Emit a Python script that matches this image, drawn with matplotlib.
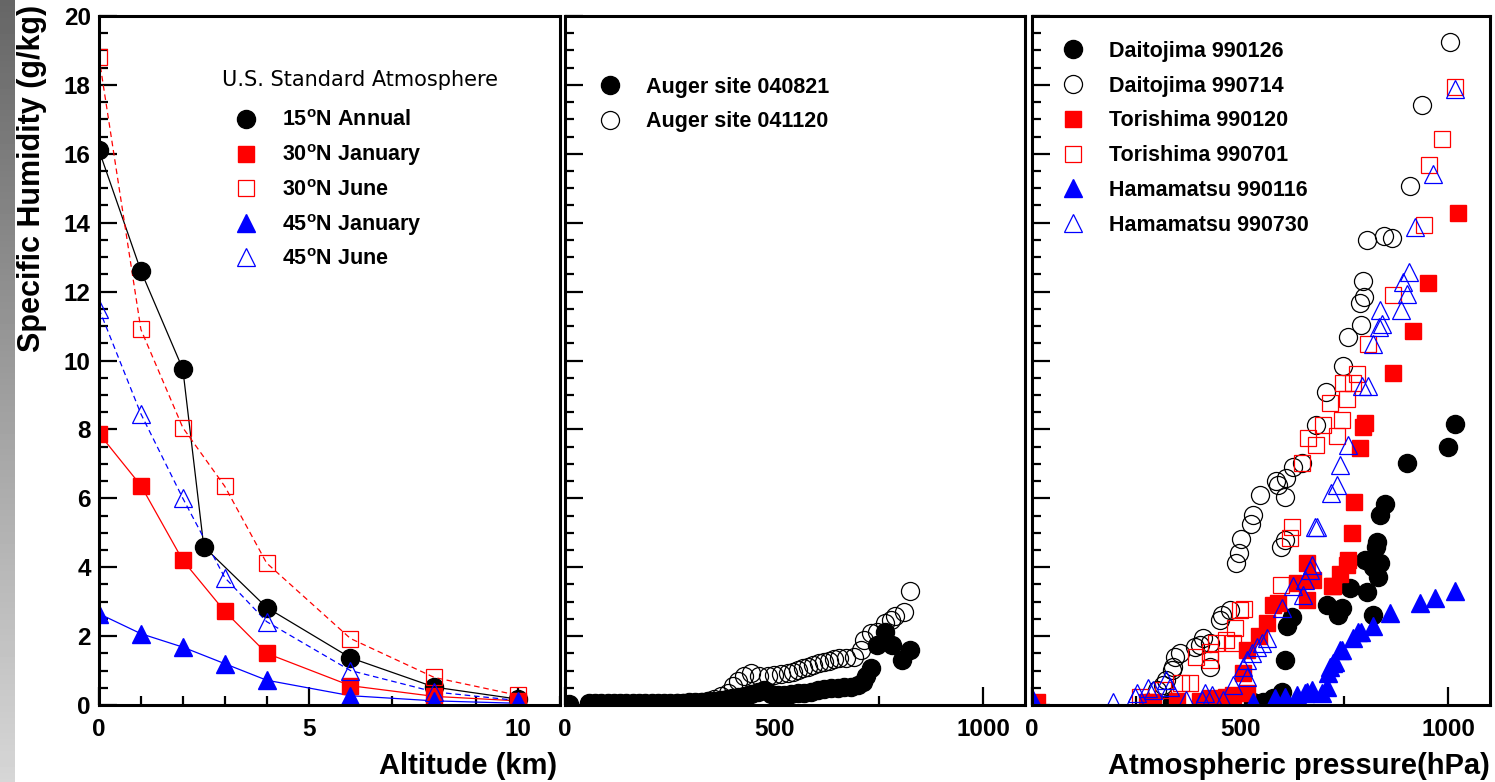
import numpy as np
import matplotlib.pyplot as plt
from matplotlib.ticker import MultipleLocator

plt.rcParams['font.family'] = ['Liberation Sans', 'DejaVu Sans']
plt.rcParams['font.weight'] = 'bold'
plt.rcParams['axes.labelweight'] = 'bold'
plt.rcParams['mathtext.fontset'] = 'custom'
plt.rcParams['mathtext.rm'] = 'Liberation Sans:bold'
plt.rcParams['mathtext.bf'] = 'Liberation Sans:bold'

# U.S. Standard Atmosphere supplementary models, altitude in km
alt_15n = [0, 1, 2, 2.5, 4, 6, 8, 10]
q_15n_annual = [16.1, 12.6, 9.75, 4.6, 2.83, 1.37, 0.52, 0.17]
alt = [0, 1, 2, 3, 4, 6, 8, 10]
q_30n_jan = [7.88, 6.37, 4.2, 2.72, 1.5, 0.56, 0.25, 0.12]
q_30n_jun = [18.8, 10.9, 8.05, 6.35, 4.12, 1.93, 0.8, 0.28]
q_45n_jan = [2.65, 2.07, 1.68, 1.2, 0.72, 0.27, 0.12, 0.05]
q_45n_jun = [11.5, 8.45, 6.0, 3.7, 2.42, 1.0, 0.38, 0.13]

# Auger site soundings, pressure in hPa
auger_0821_p = [10, 57, 72, 87, 102, 117, 132, 147, 162, 177, 192, 207, 222, 237, 252,
                267, 282, 297, 312, 327, 342, 357, 372, 387, 400, 414, 429, 445, 462,
                476, 493, 510, 524, 540, 557, 571, 588, 605, 619, 636, 652, 667, 683,
                700, 712, 719, 731, 747, 765, 783, 807, 826]
auger_0821_q = [0.04, 0.05, 0.05, 0.05, 0.05, 0.05, 0.05, 0.05, 0.05, 0.05, 0.05, 0.05,
                0.05, 0.05, 0.05, 0.06, 0.07, 0.08, 0.09, 0.1, 0.11, 0.13, 0.15, 0.18,
                0.2, 0.23, 0.26, 0.32, 0.38, 0.44, 0.32, 0.29, 0.29, 0.32, 0.34, 0.36,
                0.38, 0.44, 0.46, 0.49, 0.49, 0.53, 0.53, 0.58, 0.67, 0.83, 1.07, 1.74,
                2.12, 1.74, 1.31, 1.6]
auger_1120_p = [57, 72, 87, 102, 117, 132, 147, 162, 177, 192, 207, 222, 237, 252, 267,
                282, 297, 310, 326, 343, 357, 374, 390, 402, 414, 429, 445, 465, 486,
                500, 517, 533, 545, 557, 569, 581, 593, 607, 619, 631, 643, 655, 671,
                690, 707, 714, 731, 747, 765, 779, 790, 810, 826]
auger_1120_q = [0.04, 0.04, 0.04, 0.04, 0.04, 0.04, 0.04, 0.04, 0.04, 0.04, 0.04, 0.04,
                0.04, 0.04, 0.05, 0.05, 0.06, 0.07, 0.09, 0.13, 0.18, 0.26, 0.35, 0.55,
                0.7, 0.83, 0.93, 0.84, 0.83, 0.87, 0.9, 0.94, 0.97, 1.02, 1.07, 1.1,
                1.16, 1.22, 1.25, 1.28, 1.34, 1.37, 1.37, 1.4, 1.6, 1.89, 2.09, 2.13,
                2.38, 2.47, 2.57, 2.71, 3.31]

# Japanese radiosonde stations
dai_0126_p = [336, 440, 530, 555, 580, 600, 607, 612, 625, 708, 735, 744, 763, 799, 804,
              818, 818, 826, 828, 830, 835, 835, 849, 900, 998, 1015]
dai_0126_q = [0.1, 0.05, 0.08, 0.1, 0.2, 0.38, 1.31, 2.3, 2.55, 2.91, 2.62, 2.81, 3.39,
              4.2, 3.29, 4.0, 2.62, 4.6, 4.74, 3.73, 5.52, 4.13, 5.84, 7.03, 7.5, 8.17]
dai_0714_p = [300, 315, 323, 336, 339, 343, 355, 391, 403, 411, 427, 427, 451, 456, 475,
              491, 498, 503, 525, 531, 547, 585, 591, 597, 607, 607, 611, 627, 648, 682,
              706, 746, 758, 787, 791, 795, 797, 804, 845, 864, 907, 936, 1005]
dai_0714_q = [0.44, 0.58, 0.73, 1.02, 1.1, 1.4, 1.5, 1.69, 1.74, 1.95, 1.8, 1.1, 2.47,
              2.62, 2.76, 4.13, 4.42, 4.83, 5.26, 5.52, 6.1, 6.51, 6.4, 4.59, 6.05, 4.8,
              6.6, 6.92, 7.03, 8.14, 9.1, 9.83, 10.67, 11.66, 11.02, 12.3, 11.83, 13.49,
              13.6, 13.57, 15.06, 17.41, 19.24]
tori_0120_p = [11, 276, 291, 348, 403, 427, 467, 483, 516, 507, 516, 545, 564, 579, 590,
               636, 660, 660, 675, 720, 723, 739, 756, 758, 768, 773, 787, 795, 799, 866,
               914, 950, 1022]
tori_0120_q = [0.1, 0.1, 0.08, 0.12, 0.12, 0.2, 0.22, 0.3, 0.34, 0.92, 1.6, 2.0, 2.38,
               2.9, 2.95, 3.55, 3.05, 4.13, 3.63, 3.44, 3.44, 3.8, 4.07, 4.2, 5.0, 5.9,
               7.47, 8.08, 8.2, 9.65, 10.87, 12.24, 14.27]
tori_0701_p = [259, 315, 359, 379, 395, 427, 427, 443, 467, 483, 487, 499, 508, 599, 619,
               624, 648, 662, 682, 698, 715, 732, 744, 746, 756, 770, 780, 806, 866, 941,
               953, 984, 1015]
tori_0701_q = [0.24, 0.44, 0.64, 0.64, 1.4, 1.31, 1.54, 1.8, 1.89, 1.8, 2.24, 2.76, 2.8,
               3.49, 4.85, 5.17, 7.03, 7.76, 7.56, 8.14, 8.78, 7.82, 8.28, 9.36, 8.87,
               9.36, 9.6, 10.47, 11.89, 13.92, 15.67, 16.42, 17.94]
hama_0116_p = [2, 530, 583, 607, 636, 655, 660, 672, 696, 708, 710, 715, 722, 727, 739,
               744, 770, 782, 791, 818, 859, 931, 967, 1015]
hama_0116_q = [0.15, 0.1, 0.2, 0.24, 0.29, 0.34, 0.38, 0.44, 0.34, 0.53, 0.92, 1.1, 1.22,
               1.25, 1.6, 1.6, 1.95, 2.12, 2.12, 2.3, 2.68, 2.95, 3.1, 3.3]
hama_0730_p = [195, 248, 252, 278, 291, 323, 331, 371, 408, 416, 432, 459, 483, 507, 516,
               516, 528, 540, 552, 564, 600, 626, 650, 655, 667, 672, 679, 684, 718, 732,
               739, 758, 792, 806, 818, 833, 840, 835, 886, 900, 890, 905, 919, 962, 1015]
hama_0730_q = [0.1, 0.24, 0.34, 0.5, 0.44, 0.73, 0.53, 0.15, 0.15, 0.34, 0.29, 0.15, 0.58,
               1.1, 0.82, 1.31, 1.5, 1.69, 1.8, 1.95, 2.82, 3.44, 3.2, 3.63, 3.92, 4.07,
               5.17, 5.17, 6.16, 6.4, 6.98, 7.56, 9.25, 9.27, 10.47, 10.96, 11.05, 11.48,
               11.48, 11.92, 12.27, 12.58, 13.87, 15.4, 17.88]

W, H = 1495, 782
fig = plt.figure(figsize=(W / 100, H / 100), dpi=100)


def frame(x0, x1, y0=16, y1=705):
    return [x0 / W, 1 - y1 / H, (x1 - x0) / W, (y1 - y0) / H]


# grey bar along the left edge
bar = fig.add_axes([0, 0, 15 / W, 1])
bar.imshow(np.linspace(0.40, 0.84, 256)[:, None], cmap='gray', vmin=0, vmax=1,
           aspect='auto')
bar.axis('off')

ax1 = fig.add_axes(frame(99, 560))
ax2 = fig.add_axes(frame(565, 1025))
ax3 = fig.add_axes(frame(1032, 1490))

ms_c, ms_s, ms_t = 13, 11.8, 12.5
mew = 0.9

# left: standard atmosphere profiles
ax1.plot(alt_15n, q_15n_annual, color='black', lw=0.9)
ax1.plot(alt, q_30n_jan, color='red', lw=0.9)
ax1.plot(alt, q_30n_jun, color='red', lw=0.9, ls=(0, (4.5, 3)))
ax1.plot(alt, q_45n_jan, color='blue', lw=0.9)
ax1.plot(alt, q_45n_jun, color='blue', lw=0.9, ls=(0, (4.5, 3)))
ax1.plot(alt_15n, q_15n_annual, 'o', color='black', ms=ms_c, label='15$^{\\mathbf{o}}$N Annual')
ax1.plot(alt, q_30n_jan, 's', color='red', ms=ms_s, label='30$^{\\mathbf{o}}$N January')
ax1.plot(alt, q_30n_jun, 's', mfc='none', mec='red', mew=mew, ms=ms_s,
         label='30$^{\\mathbf{o}}$N June')
ax1.plot(alt, q_45n_jan, '^', color='blue', ms=ms_t, label='45$^{\\mathbf{o}}$N January')
ax1.plot(alt, q_45n_jun, '^', mfc='none', mec='blue', mew=mew, ms=ms_t,
         label='45$^{\\mathbf{o}}$N June')

# middle: Auger site
ax2.plot(auger_1120_p, auger_1120_q, 'o', mfc='none', mec='black', mew=mew, ms=ms_c,
         label='Auger site 041120')
ax2.plot(auger_0821_p, auger_0821_q, 'o', color='black', ms=ms_c,
         label='Auger site 040821')

# right: Japanese stations
ax3.plot(dai_0126_p, dai_0126_q, 'o', color='black', ms=ms_c, label='Daitojima 990126')
ax3.plot(dai_0714_p, dai_0714_q, 'o', mfc='none', mec='black', mew=mew, ms=ms_c,
         label='Daitojima 990714')
ax3.plot(tori_0120_p, tori_0120_q, 's', color='red', ms=ms_s, label='Torishima 990120')
ax3.plot(tori_0701_p, tori_0701_q, 's', mfc='none', mec='red', mew=mew, ms=ms_s,
         label='Torishima 990701')
ax3.plot(hama_0116_p, hama_0116_q, '^', color='blue', ms=ms_t, label='Hamamatsu 990116')
ax3.plot(hama_0730_p, hama_0730_q, '^', mfc='none', mec='blue', mew=mew, ms=ms_t,
         label='Hamamatsu 990730')

for ax in (ax1, ax2, ax3):
    for sp in ax.spines.values():
        sp.set_linewidth(2.2)
    ax.set_ylim(0, 20)
    ax.yaxis.set_major_locator(MultipleLocator(2))
    ax.yaxis.set_minor_locator(MultipleLocator(0.5))
    ax.tick_params(which='both', direction='in', top=False, right=False, width=1.6,
                   labelsize=17.5)
    ax.tick_params(which='major', length=13)
    ax.tick_params(which='minor', length=6.5)
    ax.tick_params(axis='x', pad=9)
    ax.tick_params(axis='y', pad=6)

ax1.set_xlim(0, 11)
ax1.xaxis.set_major_locator(MultipleLocator(5))
ax1.xaxis.set_minor_locator(MultipleLocator(1))
for ax in (ax2, ax3):
    ax.set_xlim(0, 1100)
    ax.xaxis.set_major_locator(MultipleLocator(500))
    ax.xaxis.set_minor_locator(MultipleLocator(250))
    ax.tick_params(axis='y', labelleft=False)

ax1.set_ylabel('Specific Humidity (g/kg)', fontsize=22, loc='top')
ax1.yaxis.set_label_coords(-0.112, 1.016)
ax1.set_xlabel('Altitude (km)', fontsize=21, loc='right')
ax1.xaxis.set_label_coords(0.993, -0.068)
ax3.set_xlabel('Atmospheric pressure(hPa)', fontsize=21, loc='right')
ax3.xaxis.set_label_coords(1.0, -0.068)

leg_kw = dict(frameon=False, fontsize=15.5, handlelength=1.0, handletextpad=1.17,
              borderpad=0, borderaxespad=0, numpoints=1, loc='upper left')
ax1.text(0.267, 0.907, 'U.S. Standard Atmosphere', transform=ax1.transAxes,
         fontsize=15, fontweight='normal', family='DejaVu Sans', va='center')
ax1.legend(bbox_to_anchor=(0.295, 0.863), labelspacing=0.52, **leg_kw)
h, l = ax2.get_legend_handles_labels()
ax2.legend(h[::-1], l[::-1], bbox_to_anchor=(0.0745, 0.912), labelspacing=0.64,
           **leg_kw)
ax3.legend(bbox_to_anchor=(0.066, 0.964), labelspacing=0.64, **leg_kw)

fig.savefig('out.png', dpi=100)
